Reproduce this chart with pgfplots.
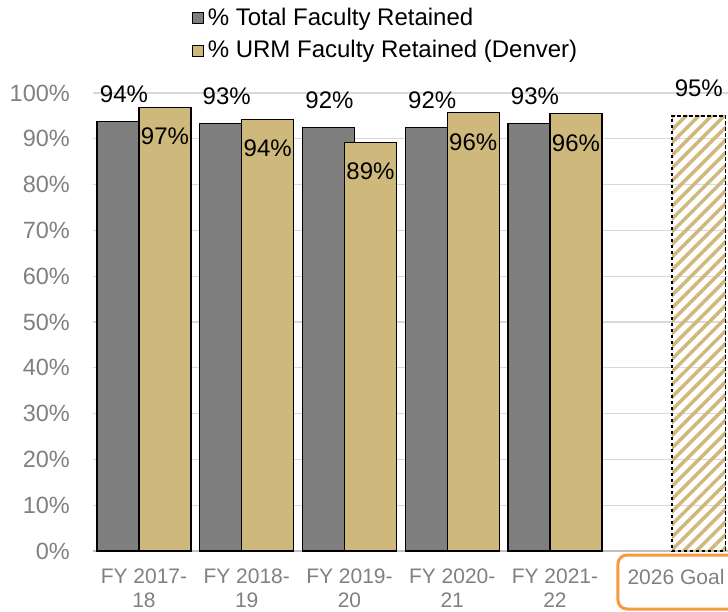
\documentclass[border=0pt]{standalone}
\usepackage{fontspec}
\setmainfont{Liberation Sans}
\usepackage{pgfplots}
\pgfplotsset{compat=1.18}
\usetikzlibrary{patterns.meta}

\definecolor{fygray}{HTML}{7F7F7F}
\definecolor{gold}{HTML}{CFB87C}
\definecolor{gridc}{HTML}{D9D9D9}
\definecolor{axisc}{HTML}{BFBFBF}
\definecolor{tickc}{HTML}{808080}
\definecolor{goalbox}{HTML}{F79A3E}

\begin{document}
\begin{tikzpicture}
\begin{axis}[
  name=ax,
  at={(0,0)}, anchor=south west,
  scale only axis,
  width=635pt, height=458pt,
  clip=false,
  xmin=-0.496, xmax=5.684,
  ymin=0, ymax=100,
  axis x line*=bottom, axis y line*=left,
  x axis line style={draw=axisc, line width=1.3pt},
  y axis line style={draw=none},
  tick style={draw=none},
  ymajorgrids, grid style={draw=gridc, line width=1.3pt},
  /pgf/number format/assume math mode=true,
  ytick={0,10,...,100},
  yticklabel={\pgfmathprintnumber{\tick}\%},
  yticklabel style={anchor=east, inner sep=0pt, xshift=-23pt, text=tickc,
    font=\fontsize{23.5}{26}\selectfont},
  xtick={0,1,2,3,4},
  xticklabels={{FY 2017-\\18},{FY 2018-\\19},{FY 2019-\\20},{FY 2020-\\21},{FY 2021-\\22}},
  xticklabel style={align=center, anchor=north, inner sep=0pt, yshift=-18pt, text=tickc,
    font=\fontsize{21}{24}\selectfont},
  legend style={at={(0.155,1.189)}, anchor=north west, draw=none, fill=none,
    inner sep=0pt, row sep=12pt, font=\fontsize{24}{28}\selectfont,
    nodes={inner sep=1pt, anchor=base west}},
  legend cell align=left,
]
% % Total Faculty Retained
\addplot[ybar, bar width=0.506, bar shift=-0.204, fill=fygray, draw=black, line width=1.3pt,
  legend image code/.code={\draw[fill=fygray, draw=black, line width=1.2pt] (0pt,1.5pt) rectangle (11pt,12.5pt);},
  nodes near coords={\pgfmathprintnumber[fixed,precision=0]{\pgfplotspointmeta}\%},
  every node near coord/.append style={anchor=south, inner sep=0pt, yshift=18pt, xshift=-20pt,
    text=black, font=\fontsize{24}{28}\selectfont}]
coordinates {(0,93.8) (1,93.3) (2,92.4) (3,92.4) (4,93.3)};
\addlegendentry{\hspace{3pt}\% Total Faculty Retained}
% % URM Faculty Retained (Denver)
\addplot[ybar, bar width=0.506, bar shift=0.204, fill=gold, draw=black, line width=1.3pt,
  legend image code/.code={\draw[fill=gold, draw=black, line width=1.2pt] (0pt,1.5pt) rectangle (11pt,12.5pt);},
  nodes near coords={\pgfmathprintnumber[fixed,precision=0]{\pgfplotspointmeta}\%},
  every node near coord/.append style={anchor=north, inner sep=0pt, yshift=-20pt, xshift=21pt,
    text=black, font=\fontsize{24}{28}\selectfont}]
coordinates {(0,96.9) (1,94.2) (2,89.2) (3,95.7) (4,95.5)};
\addlegendentry{\hspace{3pt}\% URM Faculty Retained (Denver)}
% 2026 goal: hatched fill
\addplot[ybar, forget plot, bar width=0.525, bar shift=0, draw=none,
  pattern={Lines[angle=45,distance=9pt,line width=3.5pt]}, pattern color=gold,
  nodes near coords={\pgfmathprintnumber[fixed,precision=0]{\pgfplotspointmeta}\%},
  every node near coord/.append style={anchor=south, inner sep=0pt, yshift=19pt,
    text=black, font=\fontsize{24}{28}\selectfont}]
coordinates {(5.4,95)};
% 2026 goal: dashed outline
\addplot[ybar, forget plot, bar width=0.525, bar shift=0, fill=none,
  draw=black, line width=1.3pt, dash pattern=on 3.5pt off 2.5pt]
coordinates {(5.4,95)};

\node[anchor=north, inner sep=0pt, text=tickc, font=\fontsize{21}{24}\selectfont]
  at ([yshift=-18pt]axis cs:5.178,0) {2026 Goal};
\draw[goalbox, line width=3pt, rounded corners=9pt]
  ([yshift=-4pt]axis cs:4.613,0) rectangle ([yshift=-58pt]axis cs:6.2,0);
\end{axis}
\pgfresetboundingbox
\path[use as bounding box] ([shift={(-93pt,-60pt)}]ax.south west) rectangle ([shift={(635pt,551pt)}]ax.south west);
\end{tikzpicture}
\end{document}
